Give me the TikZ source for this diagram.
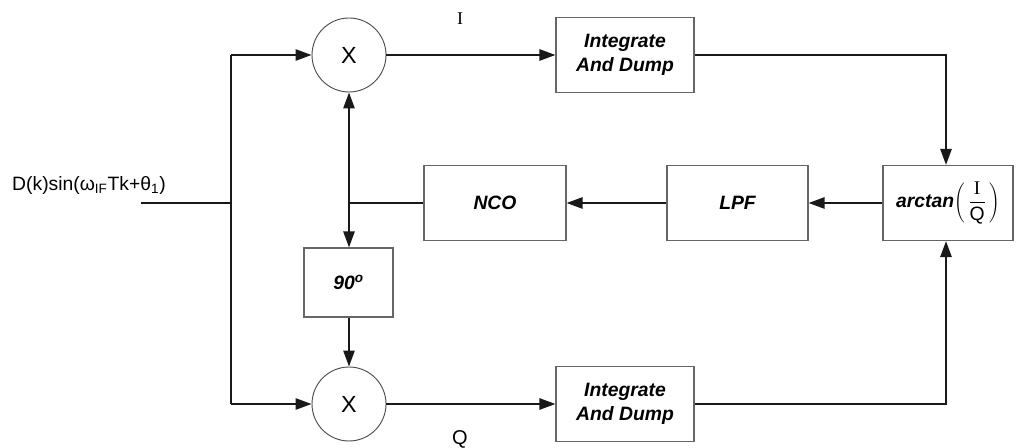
\documentclass[tikz,border=0pt]{standalone}
\usepackage{fontspec}
\setmainfont{Liberation Sans}
\newfontfamily\seriffont{Liberation Serif}
\usetikzlibrary{arrows.meta}
\tikzset{
  x=0.75pt, y=-0.75pt,
  block/.style={draw=black!60, line width=0.9pt, rectangle, minimum height=56.25pt,
                font=\bfseries\itshape\fontsize{14.5}{18}\selectfont, align=center, inner sep=1pt},
  mixer/.style={draw=black!70, line width=0.7pt, circle, minimum size=55.5pt, inner sep=0pt,
                font=\fontsize{17.5}{18}\selectfont},
  wire/.style={line width=1.3pt, black!90},
  sig/.style={wire, -{Triangle[length=12pt,width=8.5pt]}},
  lbl/.style={inner sep=0pt}
}
\begin{document}
\begin{tikzpicture}
\useasboundingbox (0,0) rectangle (1020,448);

% mixers
\node[mixer] (mulI) at (349,55) {X};
\node[mixer] (mulQ) at (349,404) {X};

% processing blocks
\node[block, minimum width=103.5pt] (intI) at (625,55) {Integrate\\And Dump};
\node[block, minimum width=103.5pt] (intQ) at (625,404) {Integrate\\And Dump};
\node[block, minimum width=97.5pt] (atan) at (948,203)
  {arctan$\left(\,\displaystyle\frac{\mbox{\seriffont\mdseries\upshape I}}{\mbox{\mdseries\upshape Q}}\,\right)$};
\node[block, minimum width=105.75pt] (lpf) at (737.5,203) {LPF};
\node[block, minimum width=106.5pt] (nco) at (495,203) {NCO};
\node[block, minimum width=66.75pt, minimum height=51.75pt] (ph) at (348.5,282.5) {90\textsuperscript{o}};

% input signal and splitting bus
\node[lbl, font=\fontsize{14.5}{16}\selectfont] (inlbl) at (89,186)
  {D(k)sin(ω\textsubscript{IF}Tk+θ\textsubscript{1})};
\coordinate (in) at (141,203);
\coordinate (bus) at (231,203);
\coordinate (busI) at (231,55);
\coordinate (busQ) at (231,404);
\draw[wire] (in) -- (bus);
\draw[wire] (busI) -- (busQ);
\draw[sig] (busI) -- (mulI);
\draw[sig] (busQ) -- (mulQ);

% I and Q branches
\draw[sig] (mulI) -- (intI);
\draw[sig] (mulQ) -- (intQ);
\node[lbl, font=\seriffont\fontsize{13.5}{14}\selectfont] (ilbl) at (460,19) {I};
\node[lbl, font=\fontsize{15}{16}\selectfont] (qlbl) at (460,439) {Q};

\coordinate (cornI) at (946,55);
\coordinate (cornQ) at (946,404);
\draw[sig] (intI.east) -- (cornI) -- (atan.north -| cornI);
\draw[sig] (intQ.east) -- (cornQ) -- (atan.south -| cornQ);

% feedback loop
\draw[sig] (atan) -- (lpf);
\draw[sig] (lpf) -- (nco);
\coordinate (jn) at (349,203);
\draw[wire] (nco.west) -- (jn);
\draw[sig] (jn) -- (mulI.south);
\draw[sig] (jn) -- (ph.north -| jn);
\draw[sig] (ph.south -| jn) -- (mulQ.north);
\end{tikzpicture}
\end{document}
